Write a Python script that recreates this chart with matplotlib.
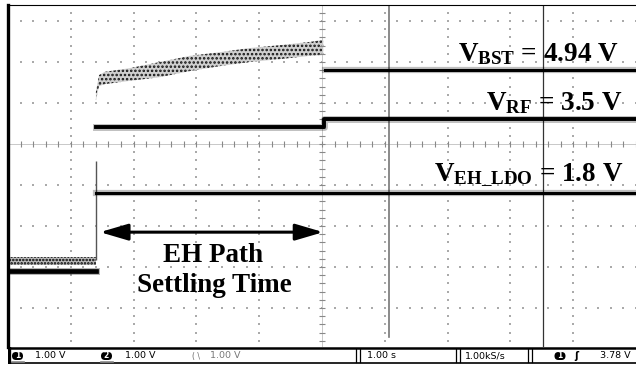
import numpy as np
import matplotlib.pyplot as plt
from matplotlib.patches import FancyBboxPatch

plt.rcParams['mathtext.fontset'] = 'custom'
plt.rcParams['mathtext.rm'] = 'Liberation Serif:bold'
plt.rcParams['mathtext.it'] = 'Liberation Serif:bold'
plt.rcParams['mathtext.bf'] = 'Liberation Serif:bold'
plt.rcParams['hatch.linewidth'] = 1.2

# Screen units: time in s (1.00 s/div), vertical in divisions from screen centre
# Before the EH path is enabled (two traces sitting low)
pre_t = [0.0, 1.40]
pre_a = [-2.85, -2.85]
pre_b = [-3.10, -3.10]

# V_BST ramp while settling (noisy band: upper / lower envelope)
bst_t = [1.40, 1.45, 1.54, 1.94, 2.42, 2.90, 3.38, 3.85, 4.33, 4.81, 5.02]
bst_hi = [1.27, 1.68, 1.76, 1.85, 2.00, 2.15, 2.24, 2.34, 2.41, 2.49, 2.54]
bst_lo = [1.07, 1.41, 1.46, 1.54, 1.63, 1.78, 1.90, 2.00, 2.07, 2.15, 2.17]

# V_BST after settling
bst2_t = [5.05, 10.0]
bst2_v = [1.80, 1.80]

# V_RF
rf_t = [1.40, 5.03, 5.03, 10.0]
rf_v = [0.41, 0.41, 0.61, 0.61]

# V_EH_LDO
ldo_t = [1.40, 10.0]
ldo_v = [-1.20, -1.20]

# enable edge
edge_t = 1.40
edge_lo, edge_hi = -2.83, -0.41

cursor_t = 8.52
marker_t = 6.07

status_left = ['1.00 V', '1.00 V', '1.00 V']
status_time = '1.00 s'
status_rate = '1.00kS/s'
status_trig = '3.78 V'

fig = plt.figure(figsize=(6.36, 3.67), dpi=100)
ax = fig.add_axes([8/636, 1-347/367, 628/636, 342/367])
ax.set_xlim(0, 10)
ax.set_ylim(-4.951, 3.390)
ax.set_xticks([])
ax.set_yticks([])
for s in ['right', 'bottom']:
    ax.spines[s].set_visible(False)
ax.spines['left'].set_linewidth(2.4)
ax.spines['top'].set_linewidth(0.8)

# graticule dots
ys = np.arange(-24, 17) * 0.2
xs = np.arange(0, 51) * 0.2
for k in range(1, 10):
    if k == 5:
        continue
    ax.scatter(np.full(len(ys), k), ys, s=1.2, marker='s', color='#aaaaaa', linewidths=0)
for j in range(-4, 4):
    if j == 0:
        continue
    ax.scatter(xs, np.full(len(xs), j), s=1.2, marker='s', color='#aaaaaa', linewidths=0)

# centre axes with minor ticks
ax.axhline(0, color='#c8c8c8', lw=0.7)
ax.axvline(5, color='#c8c8c8', lw=0.7)
ax.plot(xs, np.zeros(len(xs)), ls='none', marker='|', ms=4, mew=0.8, color='#888888')
ax.plot(np.full(len(ys), 5), ys, ls='none', marker='_', ms=4, mew=0.8, color='#888888')

# vertical lines
ax.plot([marker_t, marker_t], [-4.71, 3.39], color='#777777', lw=1.2)
ax.axvline(cursor_t, color='#333333', lw=0.9)

# traces
ax.fill_between(pre_t, [v + 0.09 for v in pre_a], [v - 0.09 for v in pre_a],
                facecolor='#bbbbbb', hatch='.....', edgecolor='black', linewidth=0)
ax.plot(pre_t, pre_b, color='black', lw=3.4)
ax.plot(pre_t, pre_b, color='black', lw=5, alpha=0.3)

ax.vlines(edge_t, edge_lo, edge_hi, color='#555555', lw=1.0)

ax.fill_between(bst_t, bst_lo, bst_hi, facecolor='#cfcfcf', hatch='....',
                edgecolor='#111111', linewidth=0)

ax.plot(bst2_t, bst2_v, color='black', lw=2.2)
ax.plot(bst2_t, bst2_v, color='black', lw=4.5, alpha=0.25)
ax.plot(rf_t, rf_v, color='black', lw=2.8)
ax.plot(rf_t, rf_v, color='black', lw=5, alpha=0.25)
ax.plot(ldo_t, ldo_v, color='black', lw=2.2)
ax.plot(ldo_t, ldo_v, color='black', lw=4.5, alpha=0.25)

# labels
lab = dict(family='Liberation Serif', weight='bold', fontsize=19.5, ha='right', va='baseline')
ax.text(9.72, 2.02, r'$V_{BST}$ = 4.94 V', **lab)
ax.text(9.78, 0.83, r'$V_{RF}$ = 3.5 V', **lab)
ax.text(9.80, -0.90, r'$V_{EH\_LDO}$ = 1.8 V', **lab)

mid = dict(family='Liberation Serif', weight='bold', fontsize=19.5, ha='center', va='baseline')
ax.text(3.26, -2.88, 'EH Path', **mid)
ax.text(3.28, -3.61, 'Settling Time', **mid)

ax.annotate('', xy=(1.465, -2.15), xytext=(5.02, -2.15),
            arrowprops=dict(arrowstyle='<|-|>,head_length=0.85,head_width=0.25',
                            mutation_scale=20, color='black', lw=2.2,
                            shrinkA=0, shrinkB=0))

# status bar
sb = fig.add_axes([8/636, 1-364/367, 628/636, 17/367])
sb.set_xlim(8, 636)
sb.set_ylim(0, 17)
sb.axis('off')
sb.plot([8, 636], [16.2, 16.2], color='black', lw=1.8)
sb.plot([8, 636], [0.6, 0.6], color='black', lw=1.2)
sb.plot([8.6, 8.6], [0.6, 16.2], color='black', lw=2.4)
for x0 in [356, 456, 528]:
    sb.plot([x0, x0], [2, 15], color='black', lw=0.9)
    sb.plot([x0 + 4, x0 + 4], [2, 15], color='black', lw=0.9)

st = dict(fontsize=6.8, va='center', ha='left', family='DejaVu Sans')
for xc, num in [(17.5, '1'), (106.5, '2'), (560, '1')]:
    sb.add_patch(FancyBboxPatch((xc - 5.5, 4), 11, 8, boxstyle='round,pad=0,rounding_size=4',
                                facecolor='black', edgecolor='none'))
    sb.text(xc, 8, num, color='white', fontsize=5.5, ha='center', va='center', weight='bold')
for xc in [17.5, 106.5]:
    sb.plot([xc - 6, xc + 6], [2.0, 2.0], color='#888888', lw=1.2)
sb.text(35, 8, status_left[0], **st)
sb.text(125, 8, status_left[1], **st)
sb.text(192, 8, '( \\', color='#666666', fontsize=5.5, va='center', ha='left')
sb.text(210, 8, status_left[2], color='#777777', fontsize=6.8, va='center', ha='left')
sb.text(367, 8, status_time, **st)
sb.text(465, 8, status_rate, **st)
sb.text(574, 8, '\u0283', fontsize=7, va='center', ha='left', weight='bold')
sb.text(600, 8, status_trig, **st)

fig.savefig('out.png', dpi=100)
